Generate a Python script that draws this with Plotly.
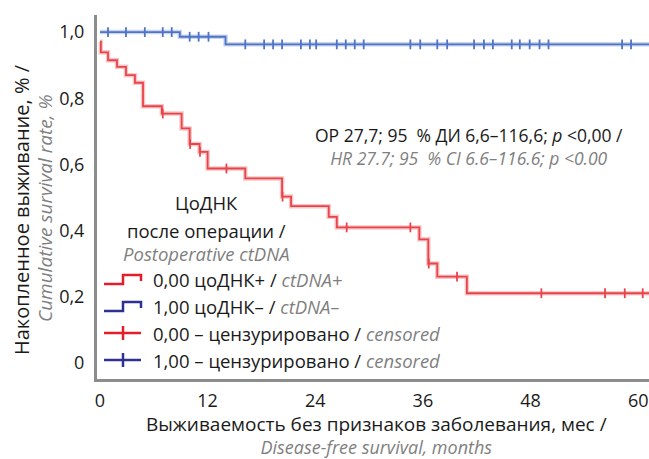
import numpy as np
import plotly.graph_objects as go

# ---------------- data ----------------
red_time = [0.0, 0.1, 0.9, 1.9, 2.9, 3.9, 4.8, 6.9, 9.1, 10.0, 11.1, 12.0, 16.2,
            20.3, 21.3, 25.5, 26.4, 35.6, 36.6, 37.6, 40.9]
red_surv = [0.971, 0.939, 0.915, 0.895, 0.870, 0.847, 0.776, 0.754, 0.709, 0.662,
            0.638, 0.588, 0.558, 0.503, 0.474, 0.442, 0.410, 0.374, 0.301, 0.261, 0.211]
red_censor = [7.0, 10.05, 11.15, 14.1, 20.35, 27.5, 34.6, 36.65, 39.8, 49.2, 56.3, 58.5, 60.5]

blue_time = [0.0, 8.9, 14.0]
blue_surv = [1.0, 0.986, 0.963]
blue_censor = [0.9, 2.9, 5.0, 7.0, 8.0, 10.0, 11.0, 12.1, 16.2, 18.3, 19.3, 20.3,
               22.4, 23.4, 24.1, 26.4, 27.4, 28.4, 29.4, 34.6, 35.7, 37.6, 38.7,
               41.7, 42.8, 43.8, 45.9, 46.8, 47.9, 49.0, 50.0, 58.2, 59.2]

follow_up_end = 61.2
x_ticks = [0, 12, 24, 36, 48, 60]
y_ticks = [0, 0.2, 0.4, 0.6, 0.8, 1.0]
y_tick_text = ["0", "0,2", "0,4", "0,6", "0,8", "1,0"]

# ---------------- styling ----------------
FONT = "Open Sans"
BLACK = "#1a1a1a"
GRAY = "#7f7f7f"
RED_LINE = "#e8454b"
BLUE_LINE = "#4f74c6"
RED_LEG = "#e31e2a"
BLUE_LEG = "#2e3192"
AXIS = "#8c8c8c"

W, H = 649, 459
ML, MR, MT, MB = 97, 0, 15, 80
PW, PH = W - ML - MR, H - MT - MB


def km_at(times, surv, t):
    idx = np.searchsorted(np.asarray(times), np.asarray(t), side="right") - 1
    return np.asarray(surv)[idx]


def px(xp):
    return (xp - ML) / PW


def py(yp):
    return (H - MB - yp) / PH


fig = go.Figure()

for times, surv, cens, col in [(blue_time, blue_surv, blue_censor, BLUE_LINE),
                               (red_time, red_surv, red_censor, RED_LINE)]:
    xs = list(times) + [follow_up_end]
    ys = list(surv) + [surv[-1]]
    # soft halo
    fig.add_trace(go.Scatter(x=xs, y=ys, mode="lines", line_shape="hv",
                             line=dict(color=col, width=4.5), opacity=0.3,
                             hoverinfo="skip", showlegend=False))
    fig.add_trace(go.Scatter(x=xs, y=ys, mode="lines", line_shape="hv",
                             line=dict(color=col, width=1.8),
                             showlegend=False))
    fig.add_trace(go.Scatter(x=cens, y=km_at(times, surv, cens), mode="markers",
                             marker=dict(symbol="line-ns", size=7,
                                         line=dict(color=col, width=1.8)),
                             showlegend=False))

fig.update_xaxes(range=[-0.33, follow_up_end], showline=True, linecolor=AXIS,
                 linewidth=3, showgrid=False, zeroline=False, ticks="",
                 tickvals=x_ticks, ticktext=[str(v) for v in x_ticks],
                 tickfont=dict(family=FONT, size=18, color=BLACK),
                 ticklabelstandoff=3)
fig.update_yaxes(range=[-0.048, 1.0517], showline=True, linecolor=AXIS,
                 linewidth=3, showgrid=False, zeroline=False, ticks="",
                 tickvals=y_ticks, ticktext=y_tick_text,
                 tickfont=dict(family=FONT, size=18, color=BLACK),
                 ticklabelstandoff=6)

ann = []


def text(x, y, s, size=18.5, angle=0, xanchor="center"):
    ann.append(dict(x=px(x), y=py(y), xref="paper", yref="paper", text=s,
                    showarrow=False, textangle=angle, xanchor=xanchor,
                    yanchor="middle", font=dict(family=FONT, size=size, color=BLACK)))


def gray(s):
    return f"<span style='color:{GRAY}'><i>{s}</i></span>"


# axis titles
text(21, 210, "Накопленное выживание, % /", size=20, angle=-90)
text(45, 208, gray("Cumulative survival rate, %"), size=19, angle=-90)
text(376, 435, "<span style='font-size:19px'>Выживаемость без признаков заболевания, мес /</span><br>"
     + gray("Disease-free survival, months"), size=18)

# hazard ratio (two lines in one block)
text(469, 146, "ОР 27,7; 95\u00a0 % ДИ 6,6–116,6; <i>p</i> &lt;0,00 /<br>"
     + gray("HR 27.7; 95\u00a0 % CI 6.6–116.6; p &lt;0.00"), size=17.5)

# legend title
text(206, 203, "ЦоДНК")
text(206, 230, "после операции /")
text(206, 253, gray("Postoperative ctDNA"))

rows = [279, 306, 333, 360]
labels = ["0,00 цоДНК+ / " + gray("ctDNA+"),
          "1,00 цоДНК– / " + gray("ctDNA–"),
          "0,00 – цензурировано / " + gray("censored"),
          "1,00 – цензурировано / " + gray("censored")]
for r, lab in zip(rows, labels):
    text(151, r, lab, xanchor="left")

shapes = []
for r, col in [(rows[0], RED_LEG), (rows[1], BLUE_LEG)]:
    path = (f"M {px(104)},{py(r + 5)} L {px(123)},{py(r + 5)} L {px(123)},{py(r - 4)} "
            f"L {px(141)},{py(r - 4)} L {px(141)},{py(r + 2)}")
    shapes.append(dict(type="path", xref="paper", yref="paper", path=path,
                       line=dict(color=col, width=2.5)))
for r, col in [(rows[2], RED_LEG), (rows[3], BLUE_LEG)]:
    shapes.append(dict(type="line", xref="paper", yref="paper", x0=px(104), x1=px(141),
                       y0=py(r), y1=py(r), line=dict(color=col, width=2.5)))
    shapes.append(dict(type="line", xref="paper", yref="paper", x0=px(123), x1=px(123),
                       y0=py(r - 7), y1=py(r + 7), line=dict(color=col, width=2.5)))

fig.update_layout(width=W, height=H, margin=dict(l=ML, r=MR, t=MT, b=MB),
                  plot_bgcolor="white", paper_bgcolor="white",
                  annotations=ann, shapes=shapes, showlegend=False,
                  font=dict(family=FONT, size=18, color=BLACK))

fig.write_html("out.html")
